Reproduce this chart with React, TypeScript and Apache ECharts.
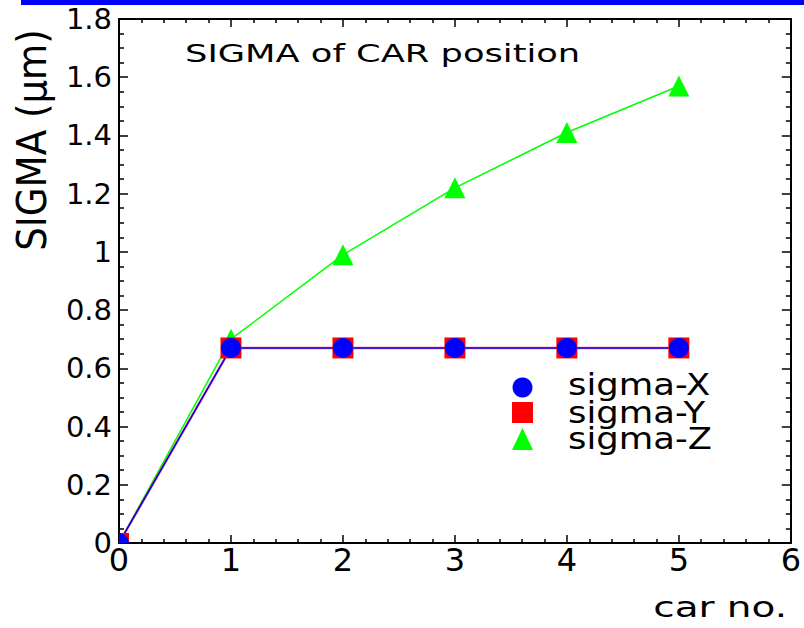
import React, { useEffect, useRef } from "react";
import * as echarts from "echarts";

// Car number along the beam line and the RMS spread of each coordinate (µm)
const carNo = [0, 1, 2, 3, 4, 5];
const sigmaX = [0, 0.67, 0.67, 0.67, 0.67, 0.67];
const sigmaY = [0, 0.67, 0.67, 0.67, 0.67, 0.67];
const sigmaZ = [0, 0.7, 0.99, 1.22, 1.41, 1.57];
const seriesNames = ["sigma-X", "sigma-Y", "sigma-Z"];
const seriesColors = ["#0000ff", "#ff0000", "#00ff00"];

const titleText = "SIGMA of CAR position";
const yAxisTitle = "SIGMA (\u03bcm)";
const xAxisTitle = "car no.";

const FONT = "DejaVu Sans";

// Markers sitting on the frame corner only show the quarter inside the frame.
const quarterCircle = "path://M0,10L0,0A10,10,0,0,1,10,10Z";

function points(values: number[], origin: any) {
  return values.map((v, i) => {
    if (carNo[i] === 0 && v === 0) {
      return { value: [carNo[i], v], ...origin };
    }
    return [carNo[i], v];
  });
}

const axisLineStyle = { show: true, onZero: false, lineStyle: { color: "#000", width: 2 } };

function xAxisBase(position: "bottom" | "top", labels: boolean) {
  return {
    type: "value",
    min: 0,
    max: 6,
    interval: 1,
    position,
    axisLine: axisLineStyle,
    axisTick: { show: true, inside: true, length: 8, lineStyle: { color: "#000", width: 1.5 } },
    minorTick: { show: true, splitNumber: 5, length: 4, lineStyle: { color: "#000", width: 1.5 } },
    axisLabel: {
      show: labels,
      margin: 1,
      fontFamily: FONT,
      fontSize: 32,
      color: "#000",
    },
    splitLine: { show: false },
    minorSplitLine: { show: false },
  };
}

function yAxisBase(position: "left" | "right", labels: boolean) {
  return {
    type: "value",
    min: 0,
    max: 1.8,
    interval: 0.2,
    position,
    axisLine: axisLineStyle,
    axisTick: { show: true, inside: true, length: 9, lineStyle: { color: "#000", width: 1.5 } },
    minorTick: { show: true, splitNumber: 4, length: 5, lineStyle: { color: "#000", width: 1.5 } },
    axisLabel: {
      show: labels,
      margin: 7,
      fontFamily: FONT,
      fontSize: 29,
      color: "#000",
      formatter: (v: number) => String(Math.round(v * 10) / 10),
    },
    splitLine: { show: false },
    minorSplitLine: { show: false },
  };
}

export default function App() {
  const ref = useRef<HTMLDivElement>(null);

  useEffect(() => {
    document.body.style.margin = "0";
    if (!ref.current) return;
    const chart = echarts.init(ref.current, undefined, { renderer: "svg" });

    const legendRows = [385, 413, 439];

    chart.setOption({
      animation: false,
      backgroundColor: "#fff",
      grid: { left: 119, right: 13, top: 19, bottom: 85, containLabel: false },
      xAxis: [xAxisBase("bottom", true), xAxisBase("top", false)],
      yAxis: [yAxisBase("left", true), yAxisBase("right", false)],
      series: [
        {
          name: seriesNames[2],
          type: "line",
          data: points(sigmaZ, { symbol: "none" }),
          symbol: "triangle",
          symbolSize: 21,
          itemStyle: { color: seriesColors[2] },
          lineStyle: { color: seriesColors[2], width: 1.5 },
        },
        {
          name: seriesNames[1],
          type: "line",
          data: points(sigmaY, { symbol: "rect", symbolSize: 10, symbolOffset: [5, -5] }),
          symbol: "rect",
          symbolSize: 21,
          itemStyle: { color: seriesColors[1] },
          lineStyle: { color: seriesColors[1], width: 2.5, opacity: 0.6 },
        },
        {
          name: seriesNames[0],
          type: "line",
          data: points(sigmaX, { symbol: quarterCircle, symbolSize: 10, symbolOffset: [5, -5] }),
          symbol: "circle",
          symbolSize: 20,
          itemStyle: { color: seriesColors[0] },
          lineStyle: { color: seriesColors[0], width: 1.5 },
        },
      ],
      graphic: [
        {
          type: "rect",
          shape: { x: 21, y: 0, width: 783, height: 5 },
          style: { fill: "#0000ff" },
          silent: true,
        },
        {
          type: "text",
          x: 185,
          y: 54,
          scaleX: 1.47,
          style: {
            text: titleText,
            fontFamily: FONT,
            fontSize: 24,
            fill: "#000",
            align: "left",
            verticalAlign: "middle",
          },
        },
        {
          type: "text",
          x: 32,
          y: 140,
          rotation: Math.PI / 2,
          scaleX: 0.93,
          style: {
            text: yAxisTitle,
            fontFamily: FONT,
            fontSize: 40,
            fill: "#000",
            align: "center",
            verticalAlign: "middle",
          },
        },
        {
          type: "text",
          x: 787,
          y: 608,
          scaleX: 1.39,
          style: {
            text: xAxisTitle,
            fontFamily: FONT,
            fontSize: 28,
            fill: "#000",
            align: "right",
            verticalAlign: "middle",
          },
        },
        // legend: marker and name for each series
        {
          type: "circle",
          shape: { cx: 522.5, cy: 387.5, r: 10 },
          style: { fill: seriesColors[0] },
        },
        {
          type: "rect",
          shape: { x: 512, y: 402, width: 21, height: 21 },
          style: { fill: seriesColors[1] },
        },
        {
          type: "polygon",
          shape: { points: [[512, 450], [533, 450], [522.5, 428]] },
          style: { fill: seriesColors[2] },
        },
        ...seriesNames.map((name, i) => ({
          type: "text",
          x: 568,
          y: legendRows[i],
          scaleX: 1.18,
          style: {
            text: name,
            fontFamily: FONT,
            fontSize: 30,
            fill: "#000",
            align: "left",
            verticalAlign: "middle",
          },
        })),
      ],
    });

    return () => chart.dispose();
  }, []);

  return <div ref={ref} style={{ width: 804, height: 628 }} />;
}
